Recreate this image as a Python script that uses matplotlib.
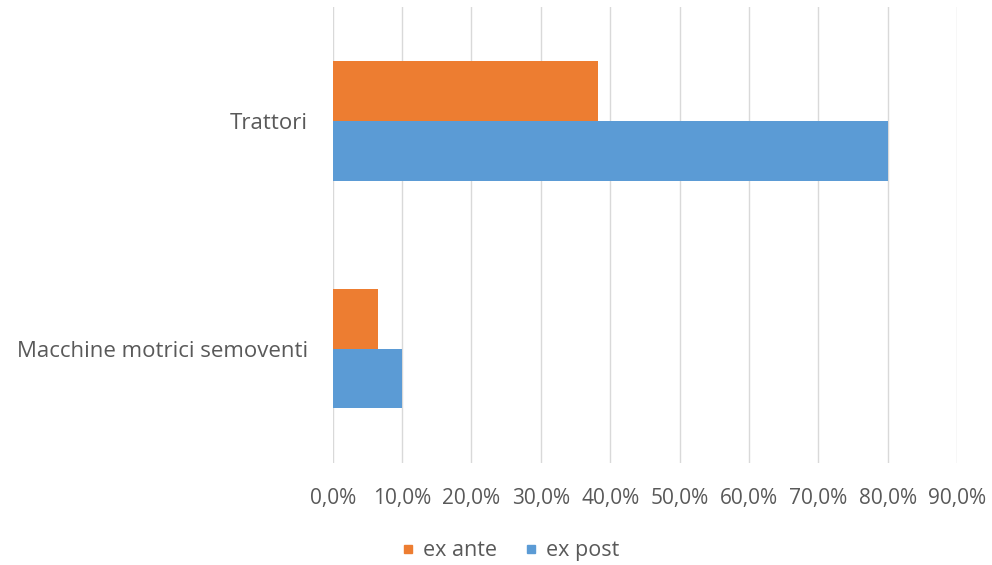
import matplotlib.pyplot as plt
import numpy as np
from matplotlib.ticker import FuncFormatter
from matplotlib.lines import Line2D

categories = ['Trattori', 'Macchine motrici semoventi']
ex_ante = [38.3, 6.5]
ex_post = [80.0, 10.0]
series_names = ['ex ante', 'ex post']
x_ticks = [0, 10, 20, 30, 40, 50, 60, 70, 80, 90]
colors = ['#ED7D31', '#5B9BD5']

plt.rcParams['font.family'] = ['Open Sans', 'DejaVu Sans']

fig = plt.figure(figsize=(9.92, 5.65), dpi=100)
ax = fig.add_axes([0.3354, 0.1814, 0.6293, 0.8062])

y = np.arange(len(categories))
h = 0.262
ax.barh(y - h / 2, ex_ante, height=h, color=colors[0], zorder=3)
ax.barh(y + h / 2, ex_post, height=h, color=colors[1], zorder=3)

ax.set_xlim(0, 90)
ax.set_ylim(1.5, -0.5)
ax.set_xticks(x_ticks)
ax.xaxis.set_major_formatter(FuncFormatter(lambda v, p: f'{v:.1f}%'.replace('.', ',')))
ax.set_yticks(y)
ax.set_yticklabels(categories)
ax.grid(axis='x', color='#D9D9D9', linewidth=1, zorder=0)
for s in ax.spines.values():
    s.set_visible(False)
ax.tick_params(axis='both', length=0, colors='#595959')
ax.tick_params(axis='x', pad=18, labelsize=15)
ax.tick_params(axis='y', pad=18, labelsize=16)

handles = [Line2D([], [], marker='s', linestyle='', markersize=6, color=c) for c in colors]
fig.legend(handles, series_names, loc='center', bbox_to_anchor=(0.515, 0.025), ncol=2,
           frameon=False, fontsize=15.5, handlelength=0.5, handletextpad=0.45,
           columnspacing=1.3, labelcolor='#595959')

fig.savefig('out.png', dpi=100)
